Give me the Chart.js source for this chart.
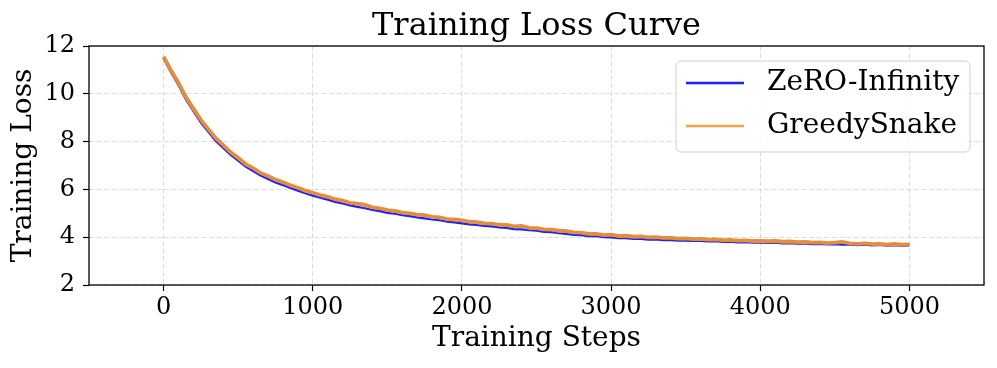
<!DOCTYPE html>
<html>
<head>
<meta charset="utf-8">
<script src="https://cdn.jsdelivr.net/npm/chart.js@4.4.0/dist/chart.umd.min.js"></script>
<style>
  body { margin: 0; background: #fff; }
  canvas { display: block; }
</style>
</head>
<body>
<canvas id="lossChart" width="997" height="368"></canvas>
<script>
// training steps (sampled every 50)
const steps = [
  0, 50, 100, 150, 200, 250, 300, 350, 400, 450,
  500, 550, 600, 650, 700, 750, 800, 850, 900, 950,
  1000, 1050, 1100, 1150, 1200, 1250, 1300, 1350, 1400, 1450,
  1500, 1550, 1600, 1650, 1700, 1750, 1800, 1850, 1900, 1950,
  2000, 2050, 2100, 2150, 2200, 2250, 2300, 2350, 2400, 2450,
  2500, 2550, 2600, 2650, 2700, 2750, 2800, 2850, 2900, 2950,
  3000, 3050, 3100, 3150, 3200, 3250, 3300, 3350, 3400, 3450,
  3500, 3550, 3600, 3650, 3700, 3750, 3800, 3850, 3900, 3950,
  4000, 4050, 4100, 4150, 4200, 4250, 4300, 4350, 4400, 4450,
  4500, 4550, 4600, 4650, 4700, 4750, 4800, 4850, 4900, 4950,
  5000
];

const zeroInfinity = [
  11.48, 10.90, 10.36, 9.76, 9.27, 8.80, 8.41, 8.03, 7.73, 7.44,
  7.20, 6.95, 6.77, 6.58, 6.44, 6.29, 6.18, 6.06, 5.95, 5.84,
  5.74, 5.65, 5.57, 5.48, 5.41, 5.33, 5.27, 5.21, 5.14, 5.09,
  5.02, 4.98, 4.92, 4.88, 4.83, 4.79, 4.74, 4.71, 4.65, 4.62,
  4.58, 4.54, 4.51, 4.47, 4.45, 4.41, 4.39, 4.34, 4.33, 4.29,
  4.27, 4.22, 4.21, 4.17, 4.14, 4.10, 4.09, 4.04, 4.04, 4.00,
  3.99, 3.96, 3.96, 3.93, 3.93, 3.90, 3.91, 3.88, 3.88, 3.86,
  3.86, 3.84, 3.84, 3.82, 3.83, 3.80, 3.81, 3.78, 3.79, 3.77,
  3.78, 3.76, 3.77, 3.74, 3.75, 3.73, 3.74, 3.71, 3.72, 3.70,
  3.71, 3.69, 3.70, 3.67, 3.69, 3.66, 3.68, 3.65, 3.67, 3.65,
  3.66
];

const greedySnake = [
  11.55, 10.98, 10.46, 9.86, 9.38, 8.91, 8.52, 8.14, 7.85, 7.55,
  7.32, 7.06, 6.89, 6.69, 6.56, 6.41, 6.30, 6.17, 6.07, 5.95,
  5.86, 5.76, 5.69, 5.59, 5.53, 5.44, 5.40, 5.35, 5.25, 5.21,
  5.13, 5.10, 5.03, 5.00, 4.94, 4.92, 4.85, 4.83, 4.76, 4.74,
  4.70, 4.65, 4.63, 4.58, 4.57, 4.52, 4.51, 4.45, 4.47, 4.39,
  4.38, 4.33, 4.32, 4.27, 4.25, 4.20, 4.19, 4.14, 4.14, 4.09,
  4.11, 4.05, 4.06, 4.02, 4.03, 3.99, 4.00, 3.97, 3.97, 3.94,
  3.95, 3.92, 3.93, 3.90, 3.91, 3.88, 3.89, 3.86, 3.87, 3.84,
  3.85, 3.83, 3.84, 3.81, 3.82, 3.79, 3.80, 3.77, 3.78, 3.75,
  3.77, 3.80, 3.74, 3.72, 3.74, 3.71, 3.72, 3.69, 3.72, 3.69,
  3.70
];

const seriesNames = ['ZeRO-Infinity', 'GreedySnake'];
const xTicks = [0, 1000, 2000, 3000, 4000, 5000];
const yTicks = [2, 4, 6, 8, 10, 12];

const serif = "'DejaVu Serif', serif";
const blue = '#1f1fff';
const orange = '#e38e3a';
const orangeKey = '#f4a549';

function toPoints(vals) {
  return steps.map((s, i) => ({ x: s, y: vals[i] }));
}

// matplotlib-like frame + legend inside the axes
const framePlugin = {
  id: 'frame',
  afterDraw(chart) {
    const { ctx, chartArea: a } = chart;
    ctx.save();
    ctx.strokeStyle = '#000';
    ctx.lineWidth = 1.3;
    ctx.strokeRect(a.left, a.top, a.right - a.left, a.bottom - a.top);

    // legend box
    const bx = 676, by = 61, bw = 294, bh = 91, r = 5;
    ctx.beginPath();
    ctx.moveTo(bx + r, by);
    ctx.arcTo(bx + bw, by, bx + bw, by + bh, r);
    ctx.arcTo(bx + bw, by + bh, bx, by + bh, r);
    ctx.arcTo(bx, by + bh, bx, by, r);
    ctx.arcTo(bx, by, bx + bw, by, r);
    ctx.closePath();
    ctx.fillStyle = 'rgba(255,255,255,0.85)';
    ctx.fill();
    ctx.strokeStyle = '#d0d0d0';
    ctx.lineWidth = 1;
    ctx.stroke();

    const rows = [[seriesNames[0], blue, 83], [seriesNames[1], orangeKey, 126]];
    ctx.font = '28px ' + serif;
    ctx.textBaseline = 'middle';
    ctx.textAlign = 'left';
    rows.forEach(([name, col, y]) => {
      ctx.beginPath();
      ctx.moveTo(686, y);
      ctx.lineTo(744, y);
      ctx.strokeStyle = col;
      ctx.lineWidth = 2.5;
      ctx.stroke();
      ctx.fillStyle = '#000';
      ctx.fillText(name, 767, y);
    });
    ctx.restore();
  }
};

const gridOpts = {
  color: 'rgba(176,176,176,0.45)',
  lineWidth: 1,
  drawTicks: true,
  tickLength: 6,
  tickColor: '#000',
  tickWidth: 1.2
};

new Chart(document.getElementById('lossChart'), {
  type: 'line',
  data: {
    datasets: [
      {
        label: seriesNames[0],
        data: toPoints(zeroInfinity),
        borderColor: blue,
        borderWidth: 2.2,
        pointRadius: 0,
        tension: 0,
        order: 1
      },
      {
        label: seriesNames[1],
        data: toPoints(greedySnake),
        borderColor: orange,
        borderWidth: 3.8,
        pointRadius: 0,
        tension: 0,
        order: 0
      }
    ]
  },
  options: {
    responsive: false,
    animation: false,
    layout: { padding: { left: 0, right: 13, top: 0, bottom: 0 } },
    plugins: {
      legend: { display: false },
      tooltip: { enabled: false },
      title: {
        display: true,
        fullSize: false,
        text: 'Training Loss Curve',
        color: '#000',
        font: { family: serif, size: 32, weight: 'normal' },
        padding: { top: 7.4, bottom: 0.2 }
      }
    },
    scales: {
      x: {
        type: 'linear',
        min: -500,
        max: 5500,
        afterBuildTicks(scale) { scale.ticks = xTicks.map(v => ({ value: v })); },
        afterFit(scale) { scale.height = 83; },
        grid: gridOpts,
        border: { display: false, dash: [5, 2.5] },
        ticks: {
          color: '#000',
          padding: 2.2,
          maxRotation: 0,
          font: { family: serif, size: 24 },
          callback: v => String(v)
        },
        title: {
          display: true,
          text: 'Training Steps',
          color: '#000',
          font: { family: serif, size: 28 },
          padding: { top: 0, bottom: 12.2 }
        }
      },
      y: {
        min: 2,
        max: 12,
        afterBuildTicks(scale) { scale.ticks = yTicks.map(v => ({ value: v })); },
        afterFit(scale) { scale.width = 89; },
        grid: gridOpts,
        border: { display: false, dash: [5, 2.5] },
        ticks: {
          color: '#000',
          padding: 8,
          font: { family: serif, size: 24 },
          callback: v => String(v)
        },
        title: {
          display: true,
          text: 'Training Loss',
          color: '#000',
          font: { family: serif, size: 28 },
          padding: { top: 6.5, bottom: 0 }
        }
      }
    }
  },
  plugins: [framePlugin]
});
</script>
</body>
</html>
